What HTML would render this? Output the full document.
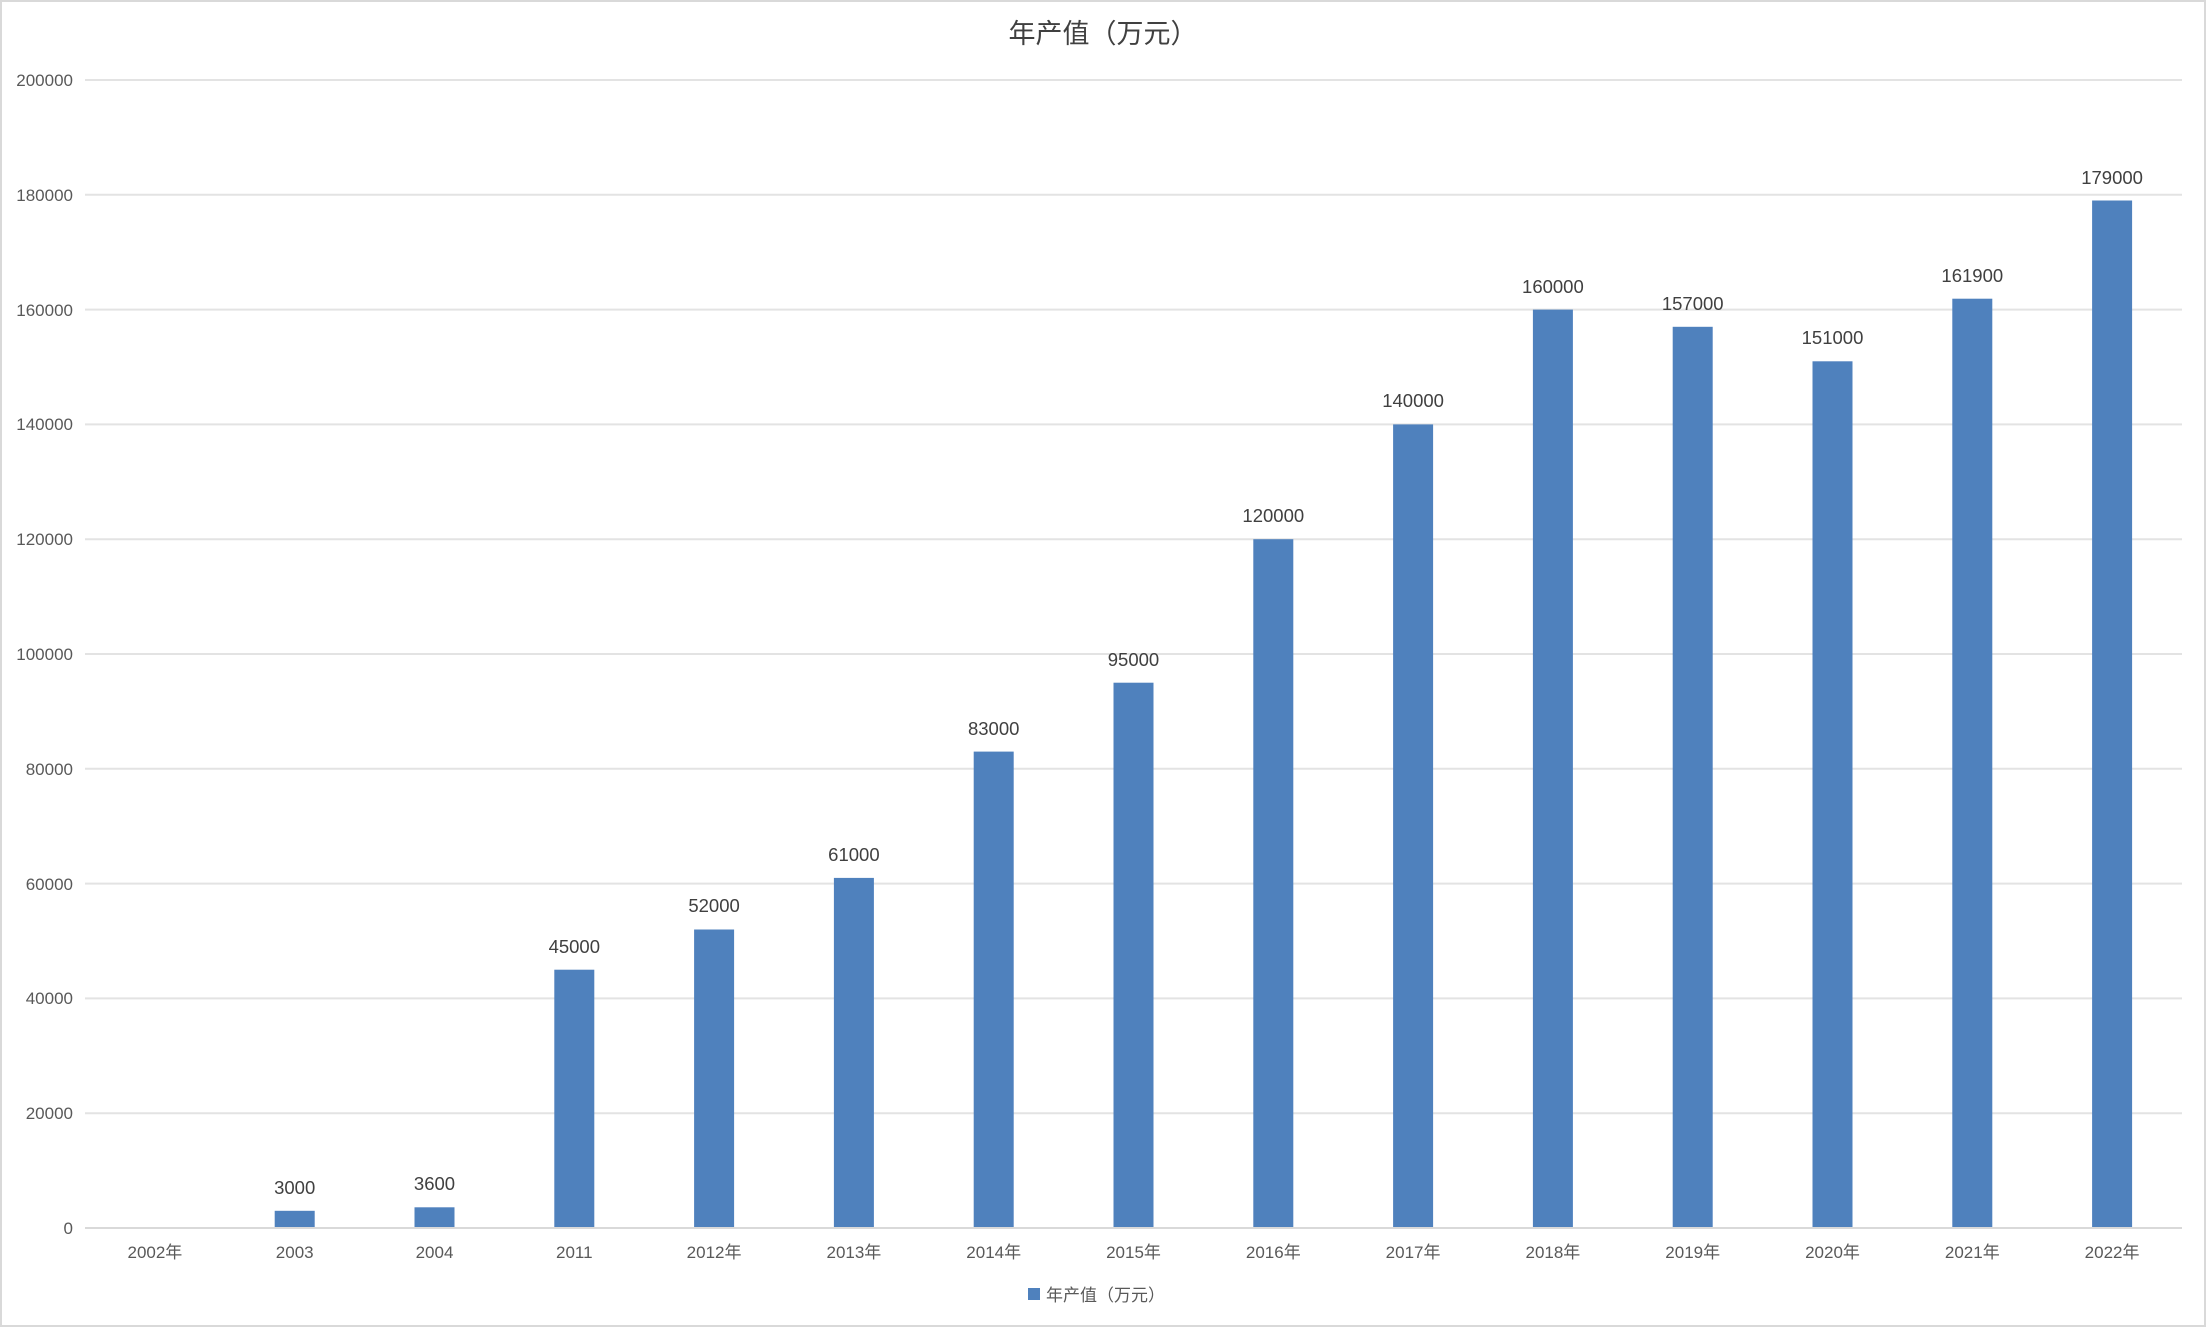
<!DOCTYPE html>
<html><head><meta charset="utf-8"><style>
html,body{margin:0;padding:0;background:#fff}
svg{display:block}
text{font-family:"Liberation Sans","Noto Sans CJK SC",sans-serif;fill:#595959}
.d{font-size:18.5px;text-anchor:middle;fill:#404040}
.x{font-size:17px;text-anchor:middle}
</style></head><body>
<svg width="2206" height="1327" viewBox="0 0 2206 1327" xmlns="http://www.w3.org/2000/svg">
<rect x="1" y="1" width="2204" height="1325" fill="#fff" stroke="#d9d9d9" stroke-width="2"/>
<text x="1103" y="43" text-anchor="middle" font-size="27" style="fill:#404040">年产值（万元）</text>
<g stroke="#e3e3e3" stroke-width="2">
<line x1="85" x2="2182" y1="80" y2="80"/><line x1="85" x2="2182" y1="194.8" y2="194.8"/>
<line x1="85" x2="2182" y1="309.6" y2="309.6"/><line x1="85" x2="2182" y1="424.4" y2="424.4"/>
<line x1="85" x2="2182" y1="539.2" y2="539.2"/><line x1="85" x2="2182" y1="654" y2="654"/>
<line x1="85" x2="2182" y1="768.8" y2="768.8"/><line x1="85" x2="2182" y1="883.6" y2="883.6"/>
<line x1="85" x2="2182" y1="998.4" y2="998.4"/><line x1="85" x2="2182" y1="1113.2" y2="1113.2"/>
</g>
<g font-size="17" text-anchor="end">
<text x="73" y="86">200000</text><text x="73" y="201">180000</text><text x="73" y="316">160000</text>
<text x="73" y="430">140000</text><text x="73" y="545">120000</text><text x="73" y="660">100000</text>
<text x="73" y="775">80000</text><text x="73" y="890">60000</text><text x="73" y="1004">40000</text>
<text x="73" y="1119">20000</text><text x="73" y="1234">0</text>
</g>
<g fill="#4f81bd">
<rect x="274.7" y="1210.8" width="40" height="17.2"/>
<rect x="414.5" y="1207.3" width="40" height="20.7"/>
<rect x="554.3" y="969.7" width="40" height="258.3"/>
<rect x="694.1" y="929.5" width="40" height="298.5"/>
<rect x="833.9" y="877.9" width="40" height="350.1"/>
<rect x="973.7" y="751.6" width="40" height="476.4"/>
<rect x="1113.5" y="682.7" width="40" height="545.3"/>
<rect x="1253.3" y="539.2" width="40" height="688.8"/>
<rect x="1393.1" y="424.4" width="40" height="803.6"/>
<rect x="1532.9" y="309.6" width="40" height="918.4"/>
<rect x="1672.7" y="326.8" width="40" height="901.2"/>
<rect x="1812.5" y="361.3" width="40" height="866.7"/>
<rect x="1952.3" y="298.7" width="40" height="929.3"/>
<rect x="2092.1" y="200.5" width="40" height="1027.5"/>
</g>
<line x1="85" x2="2182" y1="1228" y2="1228" stroke="#d9d9d9" stroke-width="2"/>
<text class="d" x="294.7" y="1194">3000</text>
<text class="d" x="434.5" y="1190">3600</text>
<text class="d" x="574.3" y="953">45000</text>
<text class="d" x="714.1" y="912">52000</text>
<text class="d" x="853.9" y="861">61000</text>
<text class="d" x="993.7" y="735">83000</text>
<text class="d" x="1133.5" y="666">95000</text>
<text class="d" x="1273.3" y="522">120000</text>
<text class="d" x="1413.1" y="407">140000</text>
<text class="d" x="1552.9" y="293">160000</text>
<text class="d" x="1692.7" y="310">157000</text>
<text class="d" x="1832.5" y="344">151000</text>
<text class="d" x="1972.3" y="282">161900</text>
<text class="d" x="2112.1" y="184">179000</text>
<text class="x" x="154.9" y="1258">2002年</text>
<text class="x" x="294.7" y="1258">2003</text>
<text class="x" x="434.5" y="1258">2004</text>
<text class="x" x="574.3" y="1258">2011</text>
<text class="x" x="714.1" y="1258">2012年</text>
<text class="x" x="853.9" y="1258">2013年</text>
<text class="x" x="993.7" y="1258">2014年</text>
<text class="x" x="1133.5" y="1258">2015年</text>
<text class="x" x="1273.3" y="1258">2016年</text>
<text class="x" x="1413.1" y="1258">2017年</text>
<text class="x" x="1552.9" y="1258">2018年</text>
<text class="x" x="1692.7" y="1258">2019年</text>
<text class="x" x="1832.5" y="1258">2020年</text>
<text class="x" x="1972.3" y="1258">2021年</text>
<text class="x" x="2112.1" y="1258">2022年</text>
<rect x="1028" y="1288" width="12" height="12" fill="#4f81bd"/>
<text x="1046" y="1301" font-size="17">年产值（万元）</text>
</svg>
</body></html>
